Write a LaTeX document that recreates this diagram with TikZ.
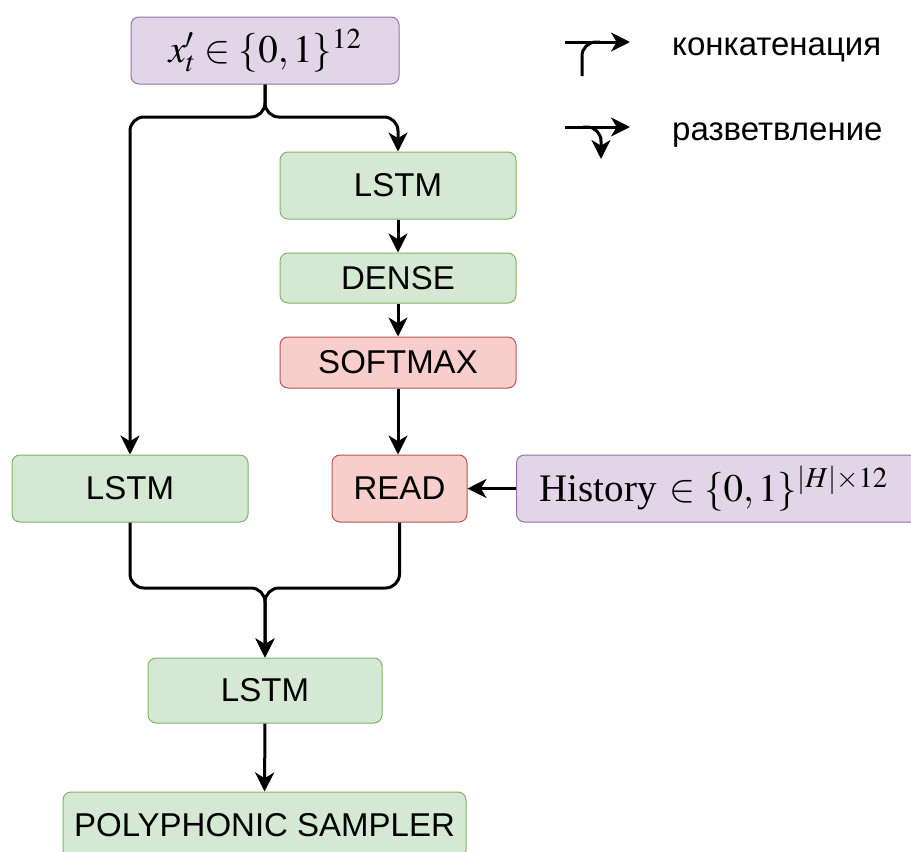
\documentclass[tikz,border=0pt]{standalone}
\usepackage{mathptmx}
\usepackage[no-math]{fontspec}
\setmainfont{Liberation Sans}
\newfontfamily\seriffont{Liberation Serif}
\usetikzlibrary{arrows.meta}
\definecolor{gfill}{HTML}{D5E8D4}\definecolor{gdraw}{HTML}{82B366}
\definecolor{rfill}{HTML}{F8CECC}\definecolor{rdraw}{HTML}{B85450}
\definecolor{pfill}{HTML}{E1D5E7}\definecolor{pdraw}{HTML}{9673A6}
\tikzset{
  box/.style={rectangle, rounded corners=8pt, line width=1pt, inner sep=0pt,
    font=\fontsize{33}{38}\selectfont},
  gbox/.style={box, fill=gfill, draw=gdraw},
  rbox/.style={box, fill=rfill, draw=rdraw},
  pbox/.style={box, fill=pfill, draw=pdraw, font=\fontsize{39}{44}\selectfont},
  conn/.style={line width=3pt, rounded corners=14pt,
    arrows={-Stealth[length=10pt,width=10pt,inset=3pt,scale=1.9]}},
  plain/.style={line width=3pt, rounded corners=14pt},
  legtext/.style={anchor=base west, inner sep=0pt, font=\fontsize{33}{38}\selectfont},
}
\begin{document}
\begin{tikzpicture}[x=1pt,y=-1pt]
\clip (0,0) rectangle (911,852);
\fill[white] (0,0) rectangle (911,852);
\useasboundingbox (0,0) rectangle (911,852);

% nodes
\node[pbox, minimum width=268pt, minimum height=67pt] (top) at (265,50.5) {$x'_t \in \{0,1\}^{12}$};
\node[gbox, minimum width=236pt, minimum height=67pt] (lstm1) at (398,185.5) {LSTM};
\node[gbox, minimum width=236pt, minimum height=50pt] (dense) at (398,278) {DENSE};
\node[rbox, minimum width=236pt, minimum height=51pt] (softmax) at (398,362.5) {SOFTMAX};
\node[gbox, minimum width=236pt, minimum height=67pt] (lstmL) at (130,488.5) {LSTM};
\node[rbox, minimum width=135pt, minimum height=67pt] (read) at (399.5,488.5) {READ};
\node[pbox, anchor=west, minimum height=67pt, text width=368pt, inner xsep=23pt, align=left] (hist) at (516,488.5) {\seriffont History $\in \{0,1\}^{|H|\times 12}$};
\node[gbox, minimum width=234pt, minimum height=65pt] (lstmB) at (265,690.5) {LSTM};
\node[gbox, minimum width=403pt, minimum height=66pt] (poly) at (264.5,825) {POLYPHONIC SAMPLER};

% connectors
\coordinate (split) at (265,117);
\draw[conn] (top.south) -- (split) -- (130,117) -- (lstmL.north);
\draw[conn] (top.south) -- (split) -- (398,117) -- (lstm1.north);
\draw[conn] (lstm1.south) -- (dense.north);
\draw[conn] (dense.south) -- (softmax.north);
\draw[conn] (softmax.south) -- (softmax.south |- read.north);
\draw[conn] (hist.west) -- (read.east);
\coordinate (merge) at (265,588);
\draw[conn] (lstmL.south) -- (130,588) -- (merge) -- (lstmB.north);
\draw[conn] (read.south) -- (read.south |- merge) -- (merge) -- (lstmB.north);
\draw[conn] (lstmB.south) -- (poly.north);

% legend
\coordinate (c1s) at (565,42);
\coordinate (c1e) at (630,42);
\coordinate (c1v) at (582,76);
\coordinate (c1k) at (582,42);
\coordinate (c1m) at (600,42);
\draw[conn] (c1s) -- (c1e);
\draw[plain] (c1v) -- (c1k) -- (c1m);
\node[legtext] (lt1) at (672,55) {конкатенация};

\coordinate (c2s) at (565,127);
\coordinate (c2e) at (630,127);
\coordinate (c2a) at (583,127);
\coordinate (c2k) at (601,127);
\coordinate (c2d) at (601,159);
\draw[conn] (c2s) -- (c2e);
\draw[conn] (c2a) -- (c2k) -- (c2d);
\node[legtext] (lt2) at (672,140) {разветвление};
\end{tikzpicture}
\end{document}
